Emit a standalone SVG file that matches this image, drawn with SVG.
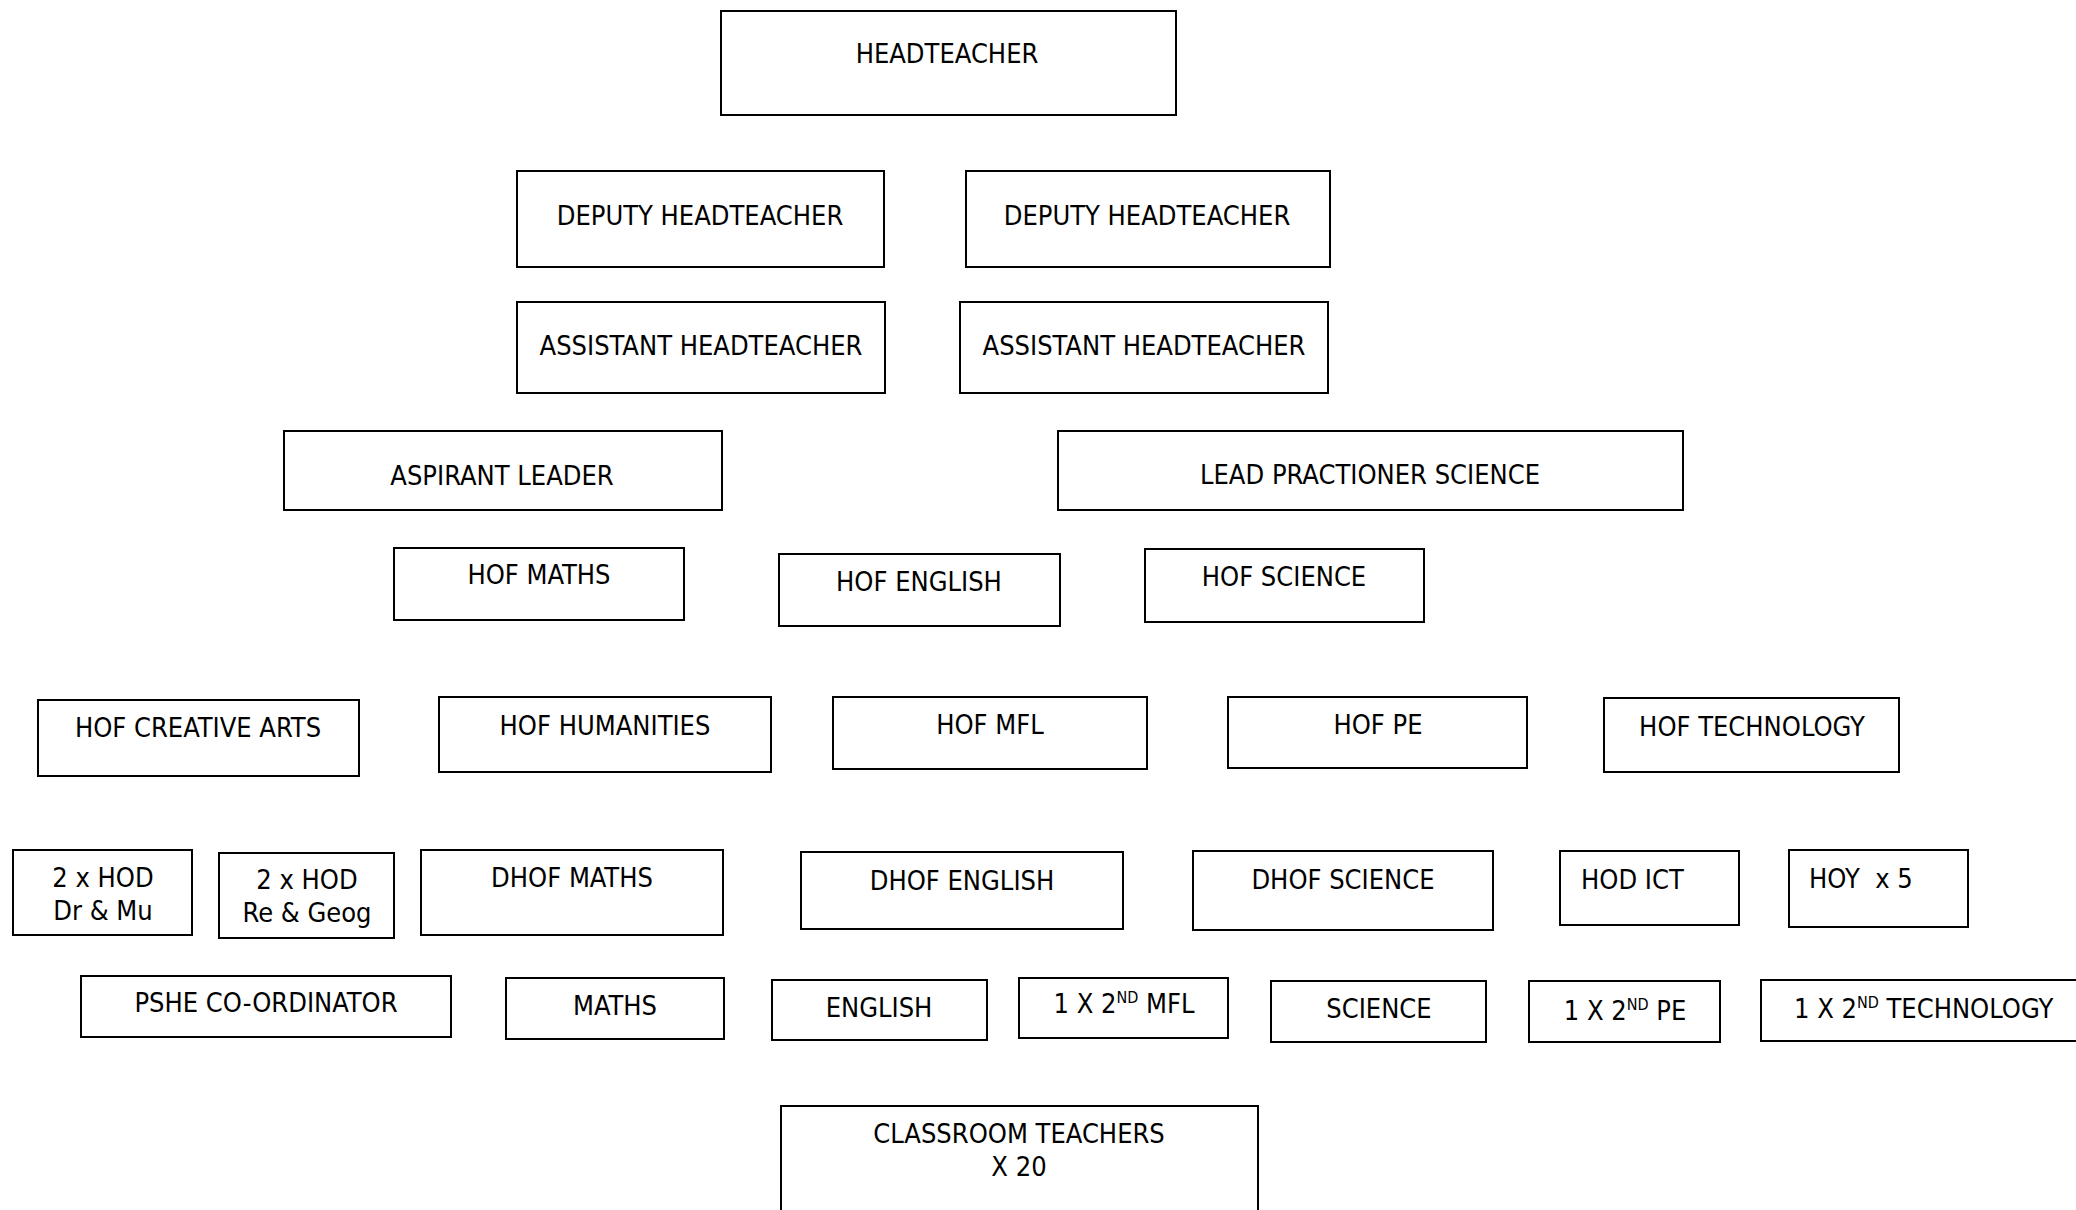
<svg xmlns="http://www.w3.org/2000/svg" width="2076" height="1210" viewBox="0 0 2076 1210">
<style>
rect{fill:#fff;stroke:#000;stroke-width:2}
text{font-family:"DejaVu Sans Condensed","DejaVu Sans",sans-serif;font-stretch:condensed;font-size:27px;fill:#000;text-anchor:middle;white-space:pre}
.l{text-anchor:start}
.sup{font-size:16px}
</style>
<rect x="0" y="0" width="2076" height="1210" style="stroke:none"/>
<g id="connectors"/>
<g id="headteacher"><rect x="721" y="11" width="455" height="104"/><text x="947" y="63">HEADTEACHER</text></g>
<g id="deputy1"><rect x="517" y="171" width="367" height="96"/><text x="700" y="225">DEPUTY HEADTEACHER</text></g>
<g id="deputy2"><rect x="966" y="171" width="364" height="96"/><text x="1147" y="225">DEPUTY HEADTEACHER</text></g>
<g id="assistant1"><rect x="517" y="302" width="368" height="91"/><text x="701" y="355">ASSISTANT HEADTEACHER</text></g>
<g id="assistant2"><rect x="960" y="302" width="368" height="91"/><text x="1144" y="355">ASSISTANT HEADTEACHER</text></g>
<g id="aspirant"><rect x="284" y="431" width="438" height="79"/><text x="502" y="485">ASPIRANT LEADER</text></g>
<g id="leadpract"><rect x="1058" y="431" width="625" height="79"/><text x="1370" y="484">LEAD PRACTIONER SCIENCE</text></g>
<g id="hofmaths"><rect x="394" y="548" width="290" height="72"/><text x="539" y="584">HOF MATHS</text></g>
<g id="hofenglish"><rect x="779" y="554" width="281" height="72"/><text x="919" y="591">HOF ENGLISH</text></g>
<g id="hofscience"><rect x="1145" y="549" width="279" height="73"/><text x="1284" y="586">HOF SCIENCE</text></g>
<g id="hofcreative"><rect x="38" y="700" width="321" height="76"/><text x="198" y="737">HOF CREATIVE ARTS</text></g>
<g id="hofhumanities"><rect x="439" y="697" width="332" height="75"/><text x="605" y="735">HOF HUMANITIES</text></g>
<g id="hofmfl"><rect x="833" y="697" width="314" height="72"/><text x="990" y="734">HOF MFL</text></g>
<g id="hofpe"><rect x="1228" y="697" width="299" height="71"/><text x="1378" y="734">HOF PE</text></g>
<g id="hoftech"><rect x="1604" y="698" width="295" height="74"/><text x="1752" y="736">HOF TECHNOLOGY</text></g>
<g id="hoddrmu"><rect x="13" y="850" width="179" height="85"/><text x="103" y="887">2 x HOD</text><text x="103" y="920">Dr &amp; Mu</text></g>
<g id="hodregeog"><rect x="219" y="853" width="175" height="85"/><text x="307" y="889">2 x HOD</text><text x="307" y="922">Re &amp; Geog</text></g>
<g id="dhofmaths"><rect x="421" y="850" width="302" height="85"/><text x="572" y="887">DHOF MATHS</text></g>
<g id="dhofenglish"><rect x="801" y="852" width="322" height="77"/><text x="962" y="890">DHOF ENGLISH</text></g>
<g id="dhofscience"><rect x="1193" y="851" width="300" height="79"/><text x="1343" y="889">DHOF SCIENCE</text></g>
<g id="hodict"><rect x="1560" y="851" width="179" height="74"/><text class="l" x="1581" y="889">HOD ICT</text></g>
<g id="hoy"><rect x="1789" y="850" width="179" height="77"/><text class="l" x="1809" y="888">HOY  x 5</text></g>
<g id="pshe"><rect x="81" y="976" width="370" height="61"/><text x="266" y="1012">PSHE CO-ORDINATOR</text></g>
<g id="maths"><rect x="506" y="978" width="218" height="61"/><text x="615" y="1015">MATHS</text></g>
<g id="english"><rect x="772" y="980" width="215" height="60"/><text x="879" y="1017">ENGLISH</text></g>
<g id="secondmfl"><rect x="1019" y="978" width="209" height="60"/><text x="1124" y="1013">1 X 2<tspan class="sup" dy="-10">ND</tspan><tspan dy="10"> MFL</tspan></text></g>
<g id="science"><rect x="1271" y="981" width="215" height="61"/><text x="1379" y="1018">SCIENCE</text></g>
<g id="secondpe"><rect x="1529" y="981" width="191" height="61"/><text x="1625" y="1020">1 X 2<tspan class="sup" dy="-10">ND</tspan><tspan dy="10"> PE</tspan></text></g>
<g id="secondtech"><rect x="1761" y="980" width="330" height="61"/><text class="l" x="1794" y="1018">1 X 2<tspan class="sup" dy="-10">ND</tspan><tspan dy="10"> TECHNOLOGY</tspan></text></g>
<g id="classroom"><rect x="781" y="1106" width="477" height="120"/><text x="1019" y="1143">CLASSROOM TEACHERS</text><text x="1019" y="1176">X 20</text></g>
</svg>
